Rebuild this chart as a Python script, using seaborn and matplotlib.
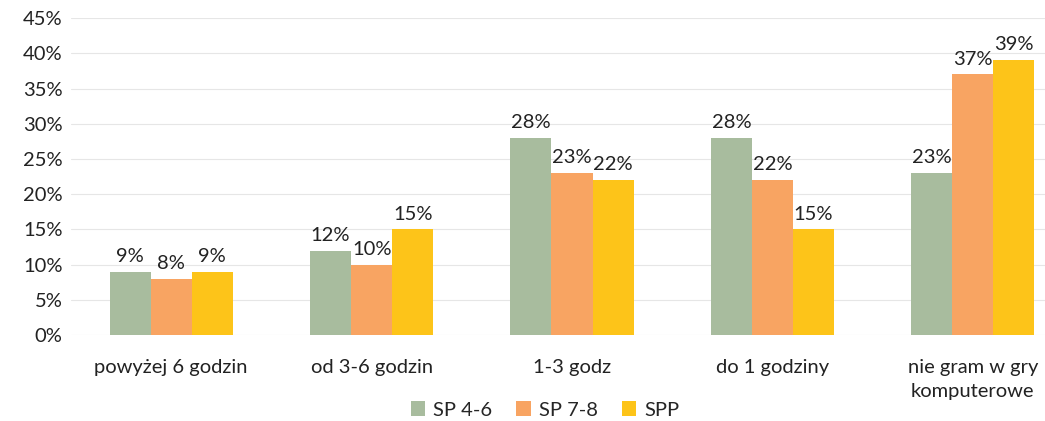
import numpy as np
import pandas as pd
import matplotlib
matplotlib.use('Agg')
import matplotlib.pyplot as plt
import seaborn as sns
from matplotlib.ticker import PercentFormatter

categories = ['powyżej 6 godzin', 'od 3-6 godzin', '1-3 godz', 'do 1 godziny', 'nie gram w gry\nkomputerowe']
groups = ['SP 4-6', 'SP 7-8', 'SPP']
sp46 = [0.09, 0.12, 0.28, 0.28, 0.23]
sp78 = [0.08, 0.10, 0.23, 0.22, 0.37]
spp = [0.09, 0.15, 0.22, 0.15, 0.39]
colors = ['#A8BC9E', '#F8A462', '#FDC419']

df = pd.DataFrame({
    'kategoria': categories * 3,
    'grupa': [groups[0]] * 5 + [groups[1]] * 5 + [groups[2]] * 5,
    'wartosc': sp46 + sp78 + spp,
})

sns.set_theme(style='white')
plt.rcParams['font.family'] = ['Lato', 'DejaVu Sans']

fig = plt.figure(figsize=(10.45, 4.21), dpi=100)
ax = fig.add_axes([71 / 1045, 0.204, 1 - 71 / 1045, 0.753])

sns.barplot(data=df, x='kategoria', y='wartosc', hue='grupa', order=categories,
            hue_order=groups, palette=colors, width=0.615, saturation=1,
            linewidth=0, edgecolor='none', ax=ax, legend=True)

for cont in ax.containers:
    ax.bar_label(cont, labels=[f'{v * 100:.0f}%' for v in cont.datavalues],
                 padding=5, fontsize=14.5, color='#222222')

ax.set_ylim(0, 0.45)
ax.set_xlim(-0.5, 4.36)
ax.set_yticks(np.arange(0, 0.451, 0.05))
ax.yaxis.set_major_formatter(PercentFormatter(1.0, decimals=0))
ax.grid(axis='y', color='#e6e6e6', linewidth=0.8)
ax.set_axisbelow(True)
for s in ax.spines.values():
    s.set_visible(False)
ax.set_xlabel('')
ax.set_ylabel('')
ax.tick_params(axis='both', length=0, labelsize=14.5, colors='#222222')
ax.tick_params(axis='y', pad=6)
ax.tick_params(axis='x', pad=17)
for lab in ax.get_xticklabels():
    lab.set_linespacing(1.55)

ax.legend(loc='center', bbox_to_anchor=(545 / 1045, 11 / 421),
          bbox_transform=fig.transFigure, ncol=3, frameon=False,
          fontsize=14.5, handlelength=0.7, handleheight=0.7,
          handletextpad=0.4, columnspacing=1.2)

fig.savefig('out.png', dpi=100)
